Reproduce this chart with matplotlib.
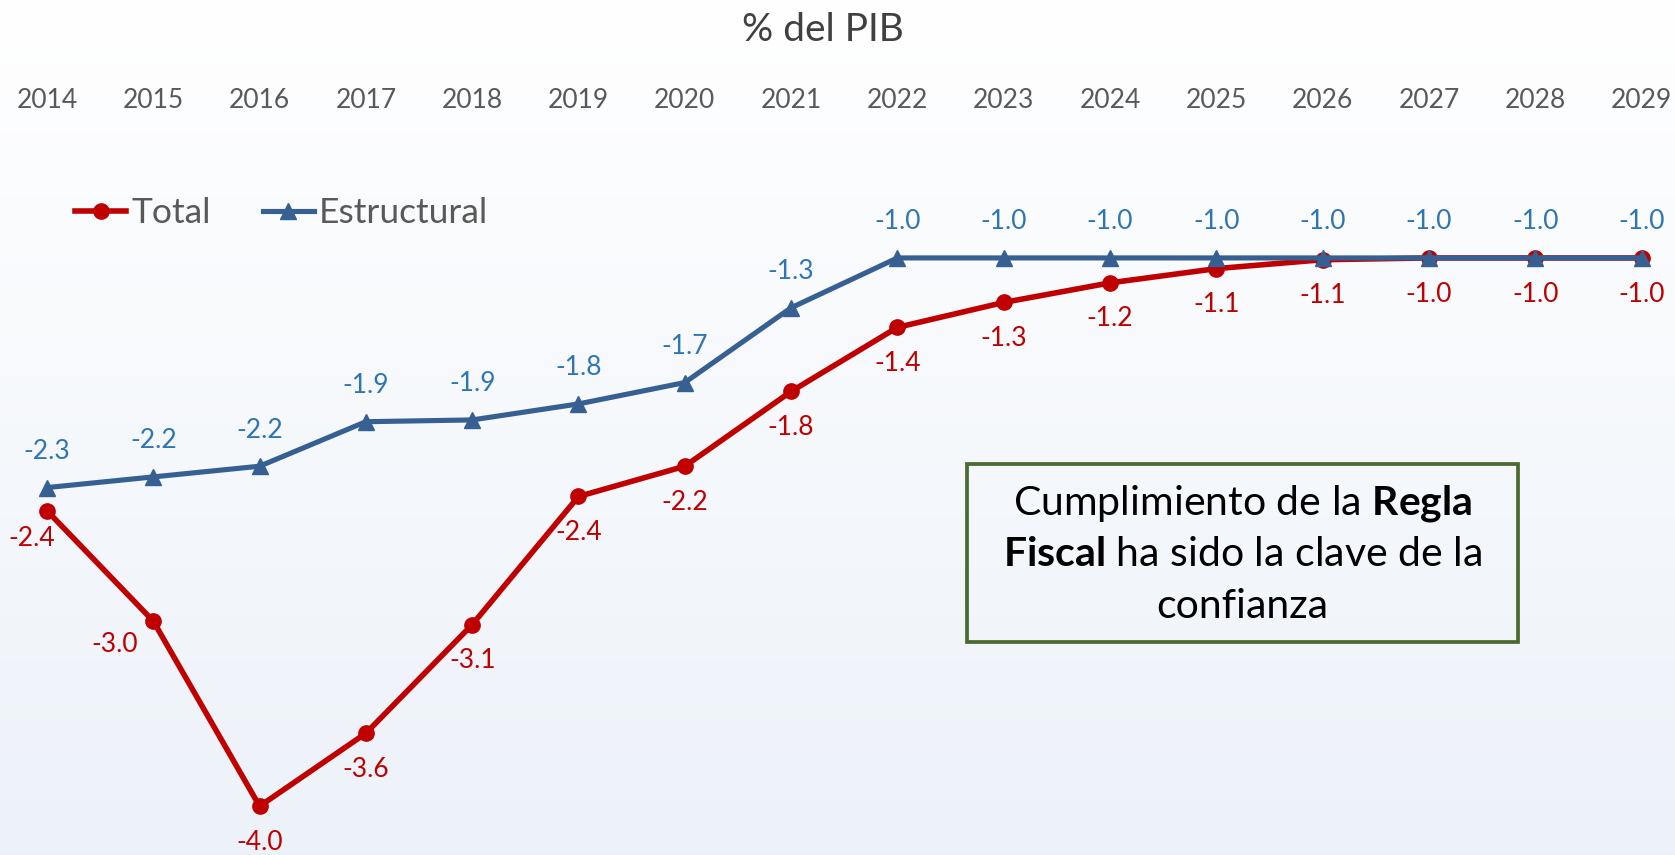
import numpy as np
import matplotlib
matplotlib.use("Agg")
import matplotlib.pyplot as plt
from matplotlib.patches import Rectangle

plt.rcParams['font.family'] = ['Lato', 'DejaVu Sans']
plt.rcParams['mathtext.fontset'] = 'custom'
plt.rcParams['mathtext.rm'] = 'Lato'
plt.rcParams['mathtext.bf'] = 'Lato:bold'

years = list(range(2014, 2030))
total = [-2.42, -3.04, -4.08, -3.67, -3.06, -2.34, -2.17, -1.75, -1.39, -1.25,
         -1.14, -1.06, -1.01, -1.0, -1.0, -1.0]
estructural = [-2.29, -2.23, -2.17, -1.92, -1.91, -1.82, -1.70, -1.28, -1.0, -1.0,
               -1.0, -1.0, -1.0, -1.0, -1.0, -1.0]
total_labels = ['-2.4', '-3.0', '-4.0', '-3.6', '-3.1', '-2.4', '-2.2', '-1.8', '-1.4', '-1.3',
                '-1.2', '-1.1', '-1.1', '-1.0', '-1.0', '-1.0']
estr_labels = ['-2.3', '-2.2', '-2.2', '-1.9', '-1.9', '-1.8', '-1.7', '-1.3', '-1.0', '-1.0',
               '-1.0', '-1.0', '-1.0', '-1.0', '-1.0', '-1.0']

RED = '#C00000'
BLUE = '#376092'
BLUE_TXT = '#2E75B6'

fig = plt.figure(figsize=(16.75, 8.55), dpi=100)
ax = fig.add_axes([0, 0, 1, 1])

# background gradient
grad = np.linspace(0, 1, 256).reshape(-1, 1)
top = np.array([1.0, 1.0, 1.0])
bot = np.array([0.929, 0.949, 0.976])
bg = top + (bot - top) * grad[:, :, None]
ax.imshow(bg, extent=[0, 1, 0, 1], transform=ax.transAxes, aspect='auto', zorder=0)

ax.plot(years, total, color=RED, lw=4, marker='o', ms=11, label='Total', zorder=3)
ax.plot(years, estructural, color=BLUE, lw=3.7, marker='^', ms=12, label='Estructural', zorder=4)

ax.set_xlim(2013.558, 2029.315)
ax.set_ylim(-4.354, 0.449)
ax.axis('off')

# data labels
for x, y, s in zip(years, estructural, estr_labels):
    ax.annotate(s, (x, y), xytext=(0, 26), textcoords='offset points',
                ha='center', va='center', fontsize=19, color=BLUE_TXT, zorder=5)

red_offsets = {0: (-11, -20), 1: (-28, -17)}
for i, (x, y, s) in enumerate(zip(years, total, total_labels)):
    off = red_offsets.get(i, (0, -26))
    ax.annotate(s, (x, y), xytext=off, textcoords='offset points',
                ha='center', va='center', fontsize=19, color=RED, zorder=5)

# year labels at the top
for x in years:
    ax.text(x, 1 - 101 / 855, str(x), transform=ax.get_xaxis_transform(),
            ha='center', va='center', fontsize=19, color='#595959')

fig.text(823 / 1675, 1 - 30 / 855, '% del PIB', ha='center', va='center',
         fontsize=28, color='#404040')

leg = ax.legend(loc='center left', bbox_to_anchor=(75 / 1675, 1 - 213 / 855),
                bbox_transform=fig.transFigure, ncol=2, frameon=False, fontsize=25.5,
                handlelength=1.45, handletextpad=0.15, columnspacing=1.45,
                borderpad=0, borderaxespad=0)
for t in leg.get_texts():
    t.set_color('#595959')

# annotation box
x0, x1 = 967 / 1675, 1518 / 1675
y0, y1 = 1 - 642 / 855, 1 - 464 / 855
fig.patches.append(Rectangle((x0, y0), x1 - x0, y1 - y0, transform=fig.transFigure,
                             facecolor='none', edgecolor='#4A6A2E', lw=2.7, zorder=6))
cx = (x0 + x1) / 2
lines = [r'Cumplimiento de la $\mathbf{Regla}$',
         r'$\mathbf{Fiscal}$ ha sido la clave de la',
         'confianza']
line_y = [1 - 503 / 855, 1 - 554 / 855, 1 - 606 / 855]
for s, ly in zip(lines, line_y):
    fig.text(cx, ly, s, ha='center', va='center', fontsize=29.5, color='black', zorder=7)

fig.savefig('out.png', dpi=100)
